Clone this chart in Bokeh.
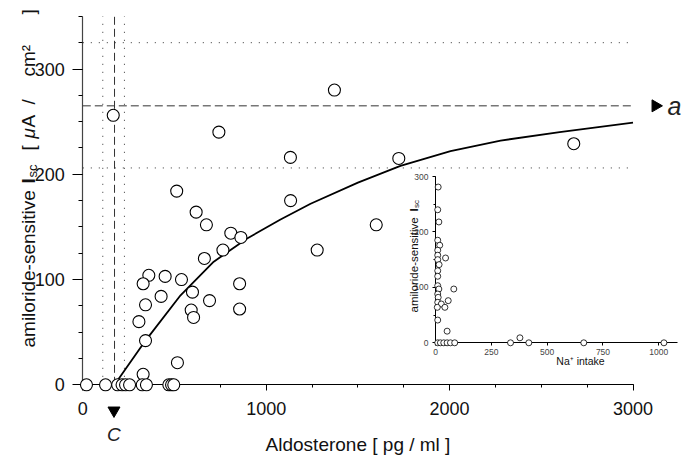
import numpy as np
from bokeh.plotting import figure
from bokeh.models import Range1d, LinearAxis, FixedTicker, Label
from bokeh.embed import file_html
from bokeh.resources import INLINE

# ---------------- data ----------------
aldosterone = [166, 742, 1132, 1372, 1133, 1723, 2677, 1600, 1278, 512, 618, 674,
               807, 862, 764, 663, 360, 329, 449, 538, 855, 427, 598, 342, 691,
               591, 604, 855, 306, 342, 516, 329,
               20, 124, 190, 214, 233, 255, 324, 347, 469, 484, 496]
isc = [256, 240, 216, 280, 175, 215, 229, 152, 128, 184, 164, 152,
       144, 140, 128, 120, 104, 96, 103, 100, 96, 84, 88, 76, 80,
       71, 64, 72, 60, 42, 21, 10,
       0, 0, 0, 0, 0, 0, 0, 0, 0, 0, 0]

fit_aldosterone = [173, 342, 533, 714, 896, 1078, 1242, 1500, 1732, 2005, 2278, 2600, 3000]
fit_isc = [0, 42, 85, 117, 139, 157, 172, 192, 208, 222, 232, 240, 249]

param_a, param_a_low, param_a_high = 265, 206, 325
param_c, param_c_low, param_c_high = 173, 109, 227

x_ticks = [0, 1000, 2000, 3000]
x_minor = list(range(0, 3001, 250))
y_ticks = [0, 100, 200, 300]
y_minor = list(range(0, 351, 25))
x_max, y_max = 3000, 350

na_intake = [12, 10, 15, 10, 19, 10, 10, 45, 10, 16, 10, 10, 10, 15, 82, 10, 12,
             57, 10, 26, 8, 42, 10, 52, 378,
             10, 22, 37, 52, 67, 86, 336, 418, 664, 1023]
inset_isc = [281, 240, 218, 185, 176, 167, 158, 153, 150, 141, 130, 120, 103, 97, 97, 88, 82,
             76, 73, 70, 64, 64, 41, 21, 9,
             0, 0, 0, 0, 0, 0, 0, 0, 0, 0]
inset_x_ticks = [0, 250, 500, 750, 1000]
inset_y_ticks = [0, 100, 200, 300]
inset_y_minor = [0, 50, 100, 150, 200, 250, 300]
inset_x_max, inset_y_max = 1083, 300

# ---------------- layout ----------------
W, H, M = 683, 457, 0
FONT = "Liberation Sans"

MX0, MSX = 82.3, 550.2 / 3000      # page px of x=0, px per unit
MY0, MSY = 384.3, 315.8 / 300
def mx(px): return (px - MX0) / MSX
def my(py): return (MY0 - py) / MSY

IX0, ISX = 435.0, 223.3 / 1000
IY0, ISY = 342.3, 166.3 / 300
def ix(px): return (px - IX0) / ISX
def iy(py): return (IY0 - py) / ISY

p = figure(width=W, height=H,
           x_range=Range1d(mx(M), mx(M + W)), y_range=Range1d(my(M + H), my(M)),
           x_axis_type=None, y_axis_type=None, toolbar_location=None,
           output_backend="svg", min_border=0)
p.outline_line_color = None
p.extra_x_ranges = {"ix": Range1d(ix(M), ix(M + W))}
p.extra_y_ranges = {"iy": Range1d(iy(M + H), iy(M))}

# reference lines for parameters a and C
p.segment(x0=[param_c_low, param_c_high], y0=[0, 0], x1=[param_c_low, param_c_high], y1=[y_max, y_max],
          line_color="#333333", line_width=1, line_dash="1 7")
p.segment(x0=[param_c], y0=[0], x1=[param_c], y1=[y_max],
          line_color="#333333", line_width=1, line_dash="8 4")
p.segment(x0=[0, 0], y0=[param_a_low, param_a_high], x1=[x_max, x_max], y1=[param_a_low, param_a_high],
          line_color="#333333", line_width=1, line_dash="1 7")
p.segment(x0=[0], y0=[param_a], x1=[x_max], y1=[param_a],
          line_color="#333333", line_width=1, line_dash="8 4")

# fitted curve and data
p.line(fit_aldosterone, fit_isc, line_color="black", line_width=1.8, line_join="round")
p.scatter(aldosterone, isc, size=12, fill_color="white", line_color="black", line_width=1.1)

# markers for a and C
p.scatter([mx(655)], [param_a], marker="triangle", angle=-np.pi / 2, size=12, color="black")
p.scatter([param_c - 3], [my(410)], marker="triangle", angle=np.pi, size=12, color="black")
p.add_layout(Label(x=mx(667), y=param_a, text="a", text_font=FONT, text_font_size="25px",
                   text_font_style="italic", text_align="left", text_baseline="middle",
                   text_color="#222222"))
p.add_layout(Label(x=param_c - 3, y=my(434), text="C", text_font=FONT, text_font_size="19px",
                   text_font_style="italic", text_align="center", text_baseline="middle",
                   text_color="#222222"))

# main axes
xa = LinearAxis(fixed_location=0, bounds=(0, x_max),
                ticker=FixedTicker(ticks=x_ticks, minor_ticks=x_minor),
                axis_label="Aldosterone [ pg / ml ]", axis_label_standoff=16,
                axis_label_text_font=FONT, axis_label_text_font_size="19px",
                axis_label_text_font_style="normal", axis_label_text_color="#111111",
                major_label_text_font=FONT, major_label_text_font_size="18px",
                major_label_text_color="#111111", major_label_standoff=11,
                major_tick_out=6, major_tick_in=0, minor_tick_out=3, minor_tick_in=0,
                axis_line_width=1.2, level="underlay")
p.add_layout(xa, "below")
ya = LinearAxis(fixed_location=0, bounds=(0, y_max),
                ticker=FixedTicker(ticks=y_ticks, minor_ticks=y_minor),
                major_label_text_font=FONT, major_label_text_font_size="18px",
                major_label_text_color="#111111", major_label_standoff=8,
                major_tick_out=10, major_tick_in=0, minor_tick_out=4, minor_tick_in=0,
                axis_line_width=1.2, axis_line_color="#444444", level="underlay")
p.add_layout(ya, "left")

# main y title in pieces (bold I, subscript sc)
def ytitle(text, px, py, size, style="normal"):
    p.add_layout(Label(x=mx(px), y=my(py), text=text, angle=np.pi / 2, text_font=FONT,
                       text_font_size=size, text_font_style=style, text_align="left",
                       text_baseline="alphabetic", text_color="#111111"))
ytitle("amiloride-sensitive", 28, 347, "19px")
ytitle("I", 28, 183, "19px", "bold")
ytitle("sc", 32, 177, "13px")
ytitle("[", 28, 150, "19px")
ytitle("\u03bc", 28, 138, "19px", "italic")
ytitle("A", 28, 127, "19px")
ytitle("/", 28, 104, "19px")
ytitle("cm\u00b2", 28, 76, "19px")
ytitle("]", 28, 14, "19px")

# inset
p.scatter(na_intake, inset_isc, size=6, fill_color="white", line_color="black", line_width=0.8,
          x_range_name="ix", y_range_name="iy")
ixa = LinearAxis(x_range_name="ix", y_range_name="iy", fixed_location=0, bounds=(0, inset_x_max),
                 ticker=FixedTicker(ticks=inset_x_ticks),
                 major_label_text_font=FONT, major_label_text_font_size="8.5px",
                 major_label_standoff=3, major_tick_out=3, major_tick_in=0,
                 axis_line_width=1, level="underlay")
p.add_layout(ixa, "below")
iya = LinearAxis(x_range_name="ix", y_range_name="iy", fixed_location=0, bounds=(0, inset_y_max),
                 ticker=FixedTicker(ticks=inset_y_ticks, minor_ticks=inset_y_minor),
                 major_label_text_font=FONT, major_label_text_font_size="8.5px",
                 major_label_standoff=4, major_tick_out=3, major_tick_in=0,
                 minor_tick_out=2, minor_tick_in=0,
                 axis_line_width=1, level="underlay")
p.add_layout(iya, "left")
p.add_layout(Label(x=ix(580), y=iy(360), text="Na\u207a intake", x_range_name="ix", y_range_name="iy",
                   text_font=FONT, text_font_size="10.5px", text_align="center",
                   text_baseline="middle", text_color="#111111"))

def ititle(text, px, py, size, style="normal"):
    p.add_layout(Label(x=ix(px), y=iy(py), text=text, angle=np.pi / 2, x_range_name="ix",
                       y_range_name="iy", text_font=FONT, text_font_size=size,
                       text_font_style=style, text_align="left", text_baseline="alphabetic",
                       text_color="#111111"))
ititle("amiloride-sensitive", 413, 312, "11.5px")
ititle("I", 413, 211, "11.5px", "bold")
ititle("sc", 415.5, 207.5, "8px")

open("out.html", "w").write(file_html(p, INLINE))
